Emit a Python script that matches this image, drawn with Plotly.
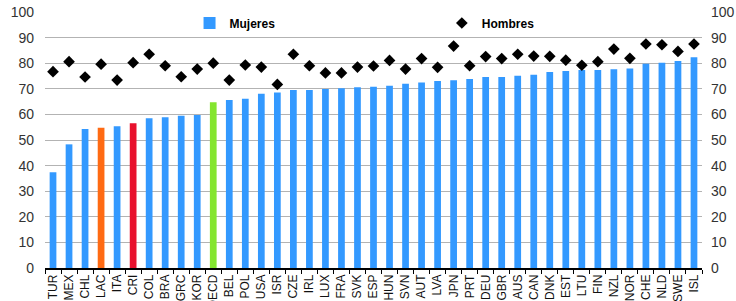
import plotly.graph_objects as go

countries = ["TUR","MEX","CHL","LAC","ITA","CRI","COL","BRA","GRC","KOR","OECD","BEL","POL",
             "USA","ISR","CZE","IRL","LUX","FRA","SVK","ESP","HUN","SVN","AUT","LVA","JPN","PRT",
             "DEU","GBR","AUS","CAN","DNK","EST","LTU","FIN","NZL","NOR","CHE","NLD","SWE","ISL"]
mujeres = [37.4,48.3,54.3,54.8,55.4,56.5,58.5,58.9,59.5,59.8,64.7,65.6,66.1,
           68.1,68.6,69.5,69.5,69.9,70.2,70.6,70.8,71.2,72.0,72.5,73.0,73.3,73.8,
           74.6,74.6,75.1,75.5,76.6,77.0,77.3,77.3,77.6,77.9,79.8,80.2,80.9,82.3]
hombres = [76.7,80.6,74.6,79.6,73.4,80.2,83.5,79.0,74.7,77.7,80.0,73.4,79.3,
           78.5,71.7,83.5,79.0,76.2,76.2,78.5,78.9,81.1,77.7,81.8,78.4,86.7,79.0,
           82.6,81.8,83.5,82.8,82.7,81.2,79.2,80.6,85.5,81.9,87.5,87.2,84.6,87.5]
y_ticks = [0,10,20,30,40,50,60,70,80,90,100]

BLUE = "#3399ff"
special = {"LAC": "#ff6a13", "CRI": "#e8112d", "OECD": "#84e52f"}
bar_colors = [special.get(c, BLUE) for c in countries]

fig = go.Figure()
fig.add_trace(go.Bar(x=countries, y=mujeres, name="Mujeres", marker=dict(color=bar_colors, line=dict(width=0)),
                     legend="legend"))
fig.add_trace(go.Scatter(x=countries, y=hombres, name="Hombres", mode="markers",
                         marker=dict(symbol="diamond", size=9, color="black"), legend="legend2"))
fig.add_trace(go.Scatter(x=countries, y=hombres, yaxis="y2", mode="markers", showlegend=False,
                         hoverinfo="skip", marker=dict(opacity=0)))

font_family = "Liberation Sans, Arial, sans-serif"
fig.update_layout(
    width=736, height=301,
    margin=dict(l=45, r=34, t=12, b=33, autoexpand=False),
    paper_bgcolor="white", plot_bgcolor="white",
    bargap=0.58,
    font=dict(family=font_family, color="#222"),
    xaxis=dict(showgrid=False, showline=True, linecolor="black", linewidth=1.5, automargin=False,
               ticks="outside", tickson="boundaries", ticklen=4, tickcolor="black",
               tickangle=-90, tickfont=dict(size=12, color="#111"), range=[-0.5, len(countries)-0.5]),
    yaxis=dict(range=[0, 100], tickvals=y_ticks, showgrid=True, gridcolor="#b3b3b3", gridwidth=1.2,
               automargin=False,
               zeroline=False, tickfont=dict(size=14, color="#333"), ticklabelstandoff=10, fixedrange=True),
    yaxis2=dict(range=[0, 100], tickvals=y_ticks, overlaying="y", side="right", showgrid=False,
                automargin=False,
                zeroline=False, tickfont=dict(size=14, color="#333"), ticklabelstandoff=8),
    legend=dict(x=0.22, y=0.957, xanchor="left", yanchor="middle", bgcolor="rgba(0,0,0,0)",
                font=dict(size=12, color="black", family=font_family, weight="bold")),
    legend2=dict(x=0.604, y=0.957, xanchor="left", yanchor="middle", bgcolor="rgba(0,0,0,0)",
                 font=dict(size=12, color="black", family=font_family, weight="bold")),
    showlegend=True,
)
fig.write_html("out.html", config={"displayModeBar": False},
               post_script="document.body.style.margin='0';document.body.style.overflow='hidden';")
